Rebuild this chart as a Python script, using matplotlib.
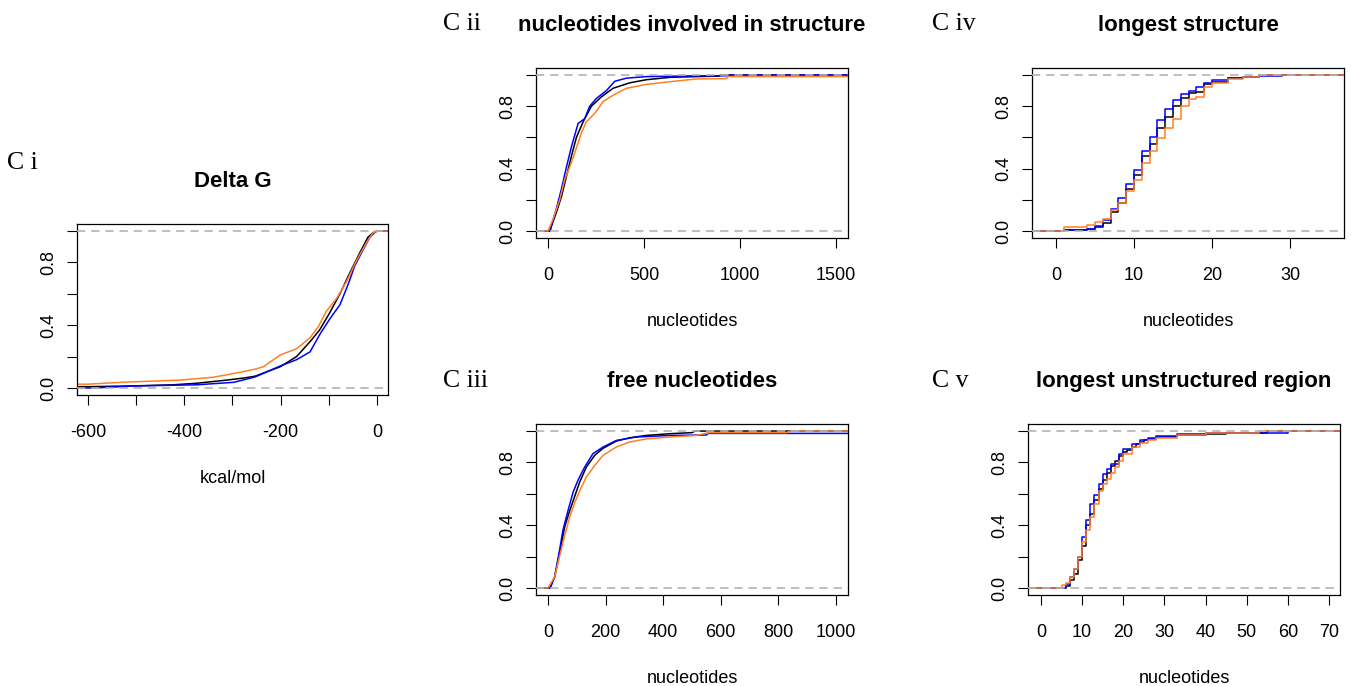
import matplotlib
matplotlib.use("Agg")
import matplotlib.pyplot as plt
import numpy as np

# ---- data (ECDF levels) ----
# C i  Delta G (kcal/mol)
dg_x_black = [-600, -506, -423, -374, -312, -277, -253, -201, -167, -139, -119, -98, -77, -57, -36, -19, -8, 0]
dg_F_black = [0.008, 0.013, 0.02, 0.03, 0.05, 0.063, 0.075, 0.135, 0.2, 0.295, 0.37, 0.48, 0.6, 0.73, 0.86, 0.96, 0.99, 1.0]
dg_x_blue = [-588, -499, -374, -297, -253, -201, -167, -139, -119, -98, -77, -60, -46, -29, -15, -5, 0]
dg_F_blue = [0.0, 0.013, 0.02, 0.036, 0.07, 0.14, 0.18, 0.23, 0.34, 0.44, 0.53, 0.66, 0.78, 0.88, 0.96, 0.99, 1.0]
dg_x_orange = [-600, -530, -409, -340, -284, -253, -236, -201, -167, -139, -122, -105, -84, -63, -43, -22, -8, 2]
dg_F_orange = [0.024, 0.036, 0.05, 0.068, 0.1, 0.12, 0.135, 0.21, 0.25, 0.32, 0.39, 0.49, 0.57, 0.68, 0.81, 0.925, 0.99, 1.0]

# C ii  nucleotides involved in structure
ns_x_black = [9, 43, 70, 96, 122, 148, 183, 226, 278, 339, 426, 513, 635, 774, 890, 900]
ns_F_black = [0.0, 0.117, 0.22, 0.35, 0.48, 0.6, 0.7, 0.8, 0.86, 0.915, 0.95, 0.97, 0.985, 0.99, 0.993, 1.0]
ns_x_blue = [12, 17, 43, 70, 96, 122, 157, 191, 217, 252, 304, 348, 409, 513, 774, 940, 950]
ns_F_blue = [0.0, 0.03, 0.14, 0.27, 0.41, 0.54, 0.69, 0.72, 0.80, 0.85, 0.9, 0.96, 0.98, 0.99, 0.995, 0.995, 1.0]
ns_x_orange = [0, 26, 61, 87, 113, 139, 174, 200, 244, 287, 339, 409, 513, 635, 774, 930, 937]
ns_F_orange = [0.0, 0.075, 0.2, 0.33, 0.41, 0.5, 0.63, 0.70, 0.755, 0.83, 0.87, 0.915, 0.94, 0.957, 0.975, 0.977, 0.99]

# C iii  free nucleotides
fn_x_black = [6, 23, 40, 58, 75, 92, 110, 133, 162, 191, 237, 283, 341, 422, 500, 510]
fn_F_black = [0.0, 0.07, 0.22, 0.39, 0.49, 0.58, 0.675, 0.77, 0.845, 0.89, 0.936, 0.957, 0.972, 0.983, 0.99, 1.0]
fn_x_blue = [8, 23, 40, 52, 69, 87, 104, 127, 156, 191, 237, 306, 422, 550, 556]
fn_F_blue = [0.0, 0.07, 0.24, 0.37, 0.49, 0.61, 0.686, 0.77, 0.856, 0.898, 0.94, 0.962, 0.972, 0.975, 0.985]
fn_x_orange = [0, 23, 40, 58, 75, 92, 110, 133, 162, 191, 237, 283, 341, 422, 514, 560, 830, 840]
fn_F_orange = [0.0, 0.07, 0.2, 0.335, 0.45, 0.54, 0.62, 0.707, 0.78, 0.845, 0.898, 0.93, 0.95, 0.962, 0.972, 0.99, 0.99, 1.0]

# C iv  longest structure (integer lengths)
ls_x_black = [1, 4, 5, 6, 7, 8, 9, 10, 11, 12, 13, 14, 15, 16, 17, 18, 19, 20, 22, 24, 26]
ls_F_black = [0.004, 0.01, 0.025, 0.05, 0.12, 0.18, 0.27, 0.36, 0.48, 0.56, 0.66, 0.73, 0.80, 0.85, 0.885, 0.89, 0.94, 0.957, 0.98, 0.99, 1.0]
ls_x_blue = [1, 4, 5, 6, 7, 8, 9, 10, 11, 12, 13, 14, 15, 16, 17, 18, 19, 20, 22, 24, 26, 29]
ls_F_blue = [0.006, 0.01, 0.03, 0.07, 0.14, 0.21, 0.30, 0.39, 0.51, 0.60, 0.71, 0.78, 0.84, 0.88, 0.90, 0.92, 0.95, 0.965, 0.98, 0.99, 0.996, 1.0]
ls_x_orange = [1, 4, 5, 6, 7, 8, 9, 10, 11, 12, 13, 14, 15, 16, 17, 18, 19, 20, 22, 24, 26]
ls_F_orange = [0.026, 0.04, 0.06, 0.08, 0.135, 0.18, 0.255, 0.33, 0.436, 0.51, 0.596, 0.66, 0.72, 0.80, 0.845, 0.857, 0.925, 0.947, 0.972, 0.99, 1.0]

# C v  longest unstructured region (integer lengths)
lu_x_black = [6, 7, 8, 9, 10, 11, 12, 13, 14, 15, 16, 17, 18, 19, 20, 21, 22, 23, 24, 25, 26, 28, 33, 40, 45, 55]
lu_F_black = [0.01, 0.05, 0.09, 0.176, 0.27, 0.4, 0.47, 0.56, 0.63, 0.686, 0.73, 0.78, 0.81, 0.84, 0.866, 0.88, 0.9, 0.915, 0.93, 0.94, 0.95, 0.96, 0.972, 0.98, 0.99, 1.0]
lu_x_blue = [6, 7, 8, 9, 10, 11, 12, 13, 14, 15, 16, 17, 19, 20, 22, 24, 26, 28, 33, 40, 52, 60]
lu_F_blue = [0.028, 0.07, 0.12, 0.2, 0.325, 0.435, 0.537, 0.59, 0.665, 0.728, 0.76, 0.79, 0.856, 0.887, 0.915, 0.94, 0.958, 0.97, 0.98, 0.985, 0.99, 1.0]
lu_x_orange = [5, 6, 7, 8, 9, 10, 11, 12, 13, 14, 15, 16, 17, 18, 19, 20, 22, 24, 26, 28, 33, 40, 53]
lu_F_orange = [0.017, 0.03, 0.07, 0.12, 0.2, 0.29, 0.37, 0.45, 0.537, 0.62, 0.665, 0.696, 0.73, 0.77, 0.81, 0.856, 0.9, 0.924, 0.94, 0.958, 0.972, 0.985, 1.0]

COL_BLACK = "black"
COL_BLUE = "#0000FF"
COL_ORANGE = "#FF7F24"
COL_GRAY = "#B3B3B3"

W, H = 1353, 686
plt.rcParams["font.family"] = ["Liberation Sans", "DejaVu Sans"]

fig = plt.figure(figsize=(W / 100, H / 100), dpi=100)


def px_axes(left, right, bottom, height):
    # pixel box -> figure fraction
    return [left / W, 1 - bottom / H, (right - left) / W, height / H]


def setup(ax, xlim, xticks, xticklabels, title, xlabel):
    ax.set_xlim(xlim)
    ax.set_ylim(-0.045, 1.045)
    ax.set_yticks([0, 0.2, 0.4, 0.6, 0.8, 1.0])
    ax.set_yticklabels(["0.0", "", "0.4", "", "0.8", ""], rotation=90, va="center")
    ax.set_xticks(xticks)
    ax.set_xticklabels(xticklabels)
    ax.tick_params(axis="both", direction="out", length=7.2, width=0.8, labelsize=13)
    ax.tick_params(axis="x", pad=14)
    ax.tick_params(axis="y", pad=7)
    for s in ax.spines.values():
        s.set_linewidth(0.9)
    ax.set_title(title, fontsize=16, fontweight="bold", pad=26.6)
    ax.set_xlabel(xlabel, fontsize=13)
    ax.xaxis.set_label_coords(0.5, -0.44)
    # R's ecdf reference lines at 0 and 1
    ax.axhline(0, color=COL_GRAY, lw=1.2, dashes=(5, 3.5), zorder=5)
    ax.axhline(1, color=COL_GRAY, lw=1.2, dashes=(5, 3.5), zorder=5)


def smooth(ax, x, F, color):
    lo, hi = ax.get_xlim()
    ax.plot(np.r_[lo, x, hi], np.r_[F[0], F, F[-1]], color=color, lw=1.1)


def steps(ax, x, F, color):
    lo, hi = ax.get_xlim()
    ax.step(np.r_[lo, x, hi], np.r_[0, F, F[-1]], where="post", color=color, lw=1.1)


# C i
ax1 = fig.add_axes(px_axes(77, 388, 395, 171))
setup(ax1, (-622.8, 22.8), list(range(-600, 1, 100)),
      ["-600", "", "-400", "", "-200", "", "0"], "Delta G", "kcal/mol")
smooth(ax1, dg_x_black, dg_F_black, COL_BLACK)
smooth(ax1, dg_x_blue, dg_F_blue, COL_BLUE)
smooth(ax1, dg_x_orange, dg_F_orange, COL_ORANGE)

# C ii
ax2 = fig.add_axes(px_axes(536, 848, 238, 170))
setup(ax2, (-62.5, 1562.5), [0, 500, 1000, 1500], ["0", "500", "1000", "1500"],
      "nucleotides involved in structure", "nucleotides")
smooth(ax2, ns_x_black, ns_F_black, COL_BLACK)
smooth(ax2, ns_x_blue, ns_F_blue, COL_BLUE)
smooth(ax2, ns_x_orange, ns_F_orange, COL_ORANGE)

# C iii
ax3 = fig.add_axes(px_axes(536, 848, 595, 171))
setup(ax3, (-41.7, 1041.7), list(range(0, 1001, 200)),
      ["0", "200", "400", "600", "800", "1000"], "free nucleotides", "nucleotides")
smooth(ax3, fn_x_black, fn_F_black, COL_BLACK)
smooth(ax3, fn_x_blue, fn_F_blue, COL_BLUE)
smooth(ax3, fn_x_orange, fn_F_orange, COL_ORANGE)

# C iv
ax4 = fig.add_axes(px_axes(1032, 1344, 238, 170))
setup(ax4, (-3.08, 36.92), [0, 10, 20, 30], ["0", "10", "20", "30"],
      "longest structure", "nucleotides")
steps(ax4, ls_x_black, ls_F_black, COL_BLACK)
steps(ax4, ls_x_blue, ls_F_blue, COL_BLUE)
steps(ax4, ls_x_orange, ls_F_orange, COL_ORANGE)

# C v
ax5 = fig.add_axes(px_axes(1028, 1340, 595, 171))
setup(ax5, (-3.16, 72.68), list(range(0, 71, 10)),
      [str(v) for v in range(0, 71, 10)], "longest unstructured region", "nucleotides")
steps(ax5, lu_x_black, lu_F_black, COL_BLACK)
steps(ax5, lu_x_blue, lu_F_blue, COL_BLUE)
steps(ax5, lu_x_orange, lu_F_orange, COL_ORANGE)

# panel tags
tags = [("C i", 7, 169), ("C ii", 443, 30), ("C iii", 443, 387), ("C iv", 932, 30), ("C v", 932, 387)]
for txt, x, y in tags:
    fig.text(x / W, 1 - y / H, txt, family="Liberation Serif", fontsize=18.5, va="baseline", ha="left")

fig.savefig("out.png", dpi=100)
